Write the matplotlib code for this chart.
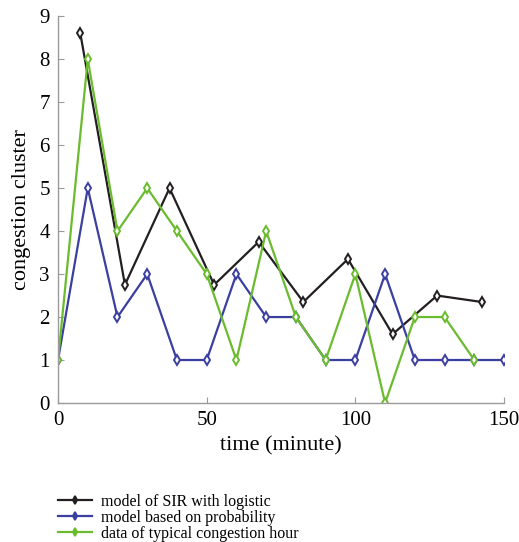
import matplotlib.pyplot as plt
import numpy as np

plt.rcParams['font.family'] = ['Liberation Serif', 'DejaVu Serif']

# SIR model with logistic growth, sampled mid-interval
t_sir = [7.5, 22.5, 37.5, 52.5, 67.5, 82.5, 97.5, 112.5, 127.5, 142.5]
c_sir = [8.6, 2.75, 5.0, 2.75, 3.75, 2.35, 3.35, 1.6, 2.5, 2.35]

# probability model, every 10 minutes
t_prob = [0, 10, 20, 30, 40, 50, 60, 70, 80, 90, 100, 110, 120, 130, 140, 150]
c_prob = [1, 5, 2, 3, 1, 1, 3, 2, 2, 1, 1, 3, 1, 1, 1, 1]

# observed congestion hour
t_data = [0, 10, 20, 30, 40, 50, 60, 70, 80, 90, 100, 110, 120, 130, 140]
c_data = [1, 8, 4, 5, 4, 3, 1, 4, 2, 1, 3, 0, 2, 2, 1]

labels = ['model of SIR with logistic', 'model based on probability',
          'data of typical congestion hour']

fig = plt.figure(figsize=(5.19, 5.42), dpi=100)
ax = fig.add_axes([0.1118, 0.2565, 0.8594, 0.7135])

style = dict(marker='d', markersize=5.5, markerfacecolor='white', markeredgewidth=1.4, lw=1.6)
ax.plot(t_sir, c_sir, color='#231f20', label=labels[0], **style)
ax.plot(t_prob, c_prob, color='#3b3f9f', label=labels[1], **style)
ax.plot(t_data, c_data, color='#6bbb2e', label=labels[2], **style)

ax.set_xlim(0, 150)
ax.set_ylim(0, 9)
ax.set_xticks([0, 50, 100, 150])
ax.set_yticks(np.arange(0, 10))
for s in ['top', 'right']:
    ax.spines[s].set_visible(False)
for s in ['left', 'bottom']:
    ax.spines[s].set_color('#9a9a9a')
    ax.spines[s].set_linewidth(1.0)
ax.tick_params(direction='in', length=4, color='#9a9a9a', labelsize=15, pad=6)

ax.set_xlabel('time (minute)', fontsize=16, labelpad=4)
ax.set_ylabel('congestion cluster', fontsize=16, labelpad=6)

leg = ax.legend(loc='upper left', bbox_to_anchor=(58 / 519, 1 - 494 / 542),
                bbox_transform=fig.transFigure, frameon=False, borderpad=0,
                borderaxespad=0, fontsize=11.5, handlelength=2.1,
                handletextpad=0.6, labelspacing=0.0, markerscale=0.75)
for h in leg.legend_handles:
    h.set_markerfacecolor(h.get_color())

fig.savefig('out.png', dpi=100)
